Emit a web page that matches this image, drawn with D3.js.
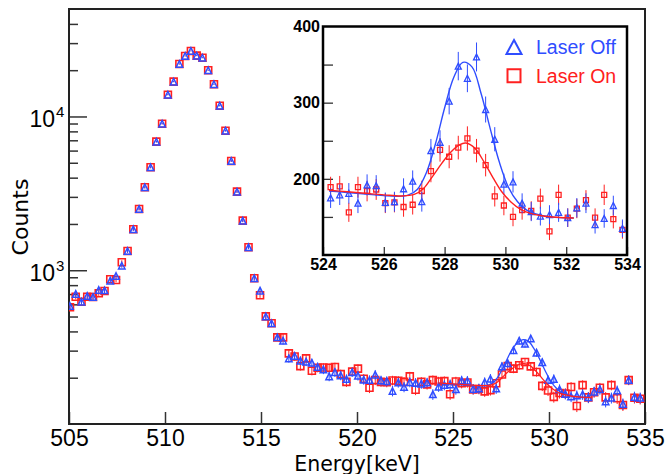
<!DOCTYPE html>
<html><head><meta charset="utf-8">
<script src="https://cdn.jsdelivr.net/npm/d3@7/dist/d3.min.js"></script>
<style>body{margin:0;background:#fff}</style>
</head><body><svg id="c" width="667" height="474"></svg>
<script>
// ---------- data ----------
const energy = [
 505.05,505.35,505.65,505.95,506.25,506.55,506.85,507.15,507.45,507.75,
 508.05,508.35,508.65,508.95,509.25,509.55,509.85,510.15,510.45,510.75,
 511.05,511.35,511.65,511.95,512.25,512.55,512.85,513.15,513.45,513.75,
 514.05,514.35,514.65,514.95,515.25,515.55,515.85,516.15,516.45,516.75,
 517.05,517.35,517.65,517.95,518.25,518.55,518.85,519.15,519.45,519.75,
 520.05,520.35,520.65,520.95,521.25,521.55,521.85,522.15,522.45,522.75,
 523.05,523.35,523.65,523.95,524.25,524.55,524.85,525.15,525.45,525.75,
 526.05,526.35,526.65,526.95,527.25,527.55,527.85,528.15,528.45,528.75,
 529.05,529.35,529.65,529.95,530.25,530.55,530.85,531.15,531.45,531.75,
 532.05,532.35,532.65,532.95,533.25,533.55,533.85,534.15,534.45,534.75];
const laserOff = [
 585,701,624,680,670,744,740,855,917,1070,
 1334,1846,2502,3464,4674,6857,8976,13860,16850,21950,
 24750,26680,24860,24100,19980,16200,11750,8083,5136,3243,
 2101,1410,887,736,501,452,366,348,267,277,
 258,254,250,235,226,204,217,207,196,217,
 206,194,193,209,192,190,164,186,174,187,
 185,183,186,156,175,179,181,168,192,191,
 169,170,187,197,170,237,248,302,348,332,
 360,291,252,193,196,168,157,151,153,156,
 149,162,168,140,148,165,135,193,150,148];
const laserOn = [
 575,673,624,673,670,708,733,873,864,1127,
 1334,1846,2502,3464,4674,6857,8976,13860,16850,21950,
 24750,26680,24860,24100,19980,16200,11750,8083,5136,3243,
 2101,1410,887,687,501,452,366,366,288,275,
 238,267,222,232,233,232,235,211,188,219,
 229,197,172,193,188,187,192,191,188,204,
 167,188,181,193,189,190,156,189,184,186,
 168,169,163,166,184,210,238,229,241,253,
 237,218,177,165,150,159,158,174,131,179,
 149,161,172,149,179,147,133,193,148,146];
// fit curves
const fitOffE = [524.2,524.8,525.4,526.0,526.4,526.8,527.1,527.4,527.7,528.0,528.3,528.6,528.9,529.2,529.5,529.8,530.1,530.4,530.7,531.0,531.5,532.25];
const fitOffY = [184,182,180,178,177,178.5,186,208,246,293,333,353,347,312,266,222,189,170,159,154,150,148.5];
const fitOnE  = [524.2,524.8,525.4,526.0,526.6,527.0,527.3,527.6,527.9,528.2,528.5,528.7,529.0,529.3,529.6,529.9,530.2,530.5,530.8,531.2,531.7,532.25];
const fitOnY  = [185,183,181,179,177.5,179.5,187,203,220,235,245,247,240,222,201,182,169,160,155,151.5,149.5,148.5];
const xTicks = [505,510,515,520,525,530,535];
const yMajor = [1000,10000];
const yMinor = [200,300,400,500,600,700,800,900,2000,3000,4000,5000,6000,7000,8000,9000,20000,30000,40000];
const insetXTicks = [524,526,528,530,532,534];
const insetYTicks = [150,200,250,300,350];
const insetYLabels = [200,300,400];
const seriesNames = ["Laser Off","Laser On"];
const BLUE = "#2f4dff", RED = "#ff2020";

// ---------- helpers ----------
const svg = d3.select("#c");
const FONT = "'Liberation Sans', Arial, sans-serif";
const triPath = (w,h) => `M0,${-h/2}L${w/2},${h/2}L${-w/2},${h/2}Z`;
const sqPath = s => `M${-s/2},${-s/2}h${s}v${s}h${-s}Z`;
const pts = arr => energy.map((e,i)=>({e, v: arr[i], err: Math.sqrt(arr[i])}));
const offPts = pts(laserOff), onPts = pts(laserOn);

// ---------- main plot ----------
const L=69,R=645,T=9,B=424;
const x = d3.scaleLinear([505,535],[L,R]);
const y = d3.scaleLog([100,50000],[B,T]);
const main = svg.append("g");
main.append("defs").append("clipPath").attr("id","mclip")
  .append("rect").attr("x",L).attr("y",T).attr("width",R-L).attr("height",B-T);

// axes
const gx = main.append("g").attr("transform",`translate(0,${B})`)
  .call(d3.axisBottom(x).tickValues(xTicks).tickSize(-12).tickPadding(6).tickFormat(d3.format("d")));
gx.select(".domain").remove();
gx.selectAll("line").attr("stroke","#333").attr("stroke-width",1.5);
gx.selectAll("text").attr("font-family",FONT).attr("font-size",23).attr("fill","#000");

const gyMinor = main.append("g").attr("transform",`translate(${L},0)`)
  .call(d3.axisLeft(y).tickValues(yMinor).tickSize(-9).tickFormat(""));
gyMinor.select(".domain").remove();
gyMinor.selectAll("line").attr("stroke","#333").attr("stroke-width",1.5);
const gyMajor = main.append("g").attr("transform",`translate(${L},0)`)
  .call(d3.axisLeft(y).tickValues(yMajor).tickSize(-18).tickFormat(""));
gyMajor.select(".domain").remove();
gyMajor.selectAll("line").attr("stroke","#333").attr("stroke-width",1.5);
yMajor.forEach(v=>{
  const yy = y(v);
  main.append("text").attr("x",55).attr("y",yy+11).attr("text-anchor","end")
    .attr("font-family",FONT).attr("font-size",23).text("10");
  main.append("text").attr("x",56).attr("y",yy+0.5)
    .attr("font-family",FONT).attr("font-size",15).text(String(Math.round(Math.log10(v))));
});

// frame
main.append("rect").attr("x",L).attr("y",T).attr("width",R-L).attr("height",B-T)
  .attr("fill","none").attr("stroke","#222").attr("stroke-width",2);

// titles
main.append("text").attr("x",(L+R)/2).attr("y",470.5).attr("text-anchor","middle")
  .attr("font-family","'DejaVu Sans', sans-serif").attr("font-size",20.5).text("Energy[keV]");
main.append("text").attr("transform","translate(28,217) rotate(-90)").attr("text-anchor","middle")
  .attr("font-family","'DejaVu Sans', sans-serif").attr("font-size",22).text("Counts");

// data
const md = main.append("g").attr("clip-path","url(#mclip)");
function drawSeries(g, data, xs, ys, color, shape, sw){
  g.append("g").selectAll("line").data(data).join("line")
    .attr("x1",d=>xs(d.e)).attr("x2",d=>xs(d.e))
    .attr("y1",d=>ys(d.v+d.err)).attr("y2",d=>ys(Math.max(d.v-d.err,1)))
    .attr("stroke",color).attr("stroke-width",1);
  g.append("g").selectAll("path").data(data).join("path")
    .attr("transform",d=>`translate(${xs(d.e)},${ys(d.v)})`)
    .attr("d",shape).attr("fill","none").attr("stroke",color).attr("stroke-width",sw);
}
const lineGen = (xs,ys)=>d3.line().x(d=>xs(d[0])).y(d=>ys(d[1])).curve(d3.curveCatmullRom.alpha(0.5));
const offFit = fitOffE.map((e,i)=>[e,fitOffY[i]]);
const onFit = fitOnE.map((e,i)=>[e,fitOnY[i]]);

drawSeries(md, onPts, x, y, RED, sqPath(7), 1.6);
drawSeries(md, offPts, x, y, BLUE, triPath(6.5,6.5), 1.5);
md.append("path").attr("d",lineGen(x,y)(offFit)).attr("fill","none").attr("stroke",BLUE).attr("stroke-width",1.3);
md.append("path").attr("d",lineGen(x,y)(onFit)).attr("fill","none").attr("stroke",RED).attr("stroke-width",1.3);

// ---------- inset ----------
const iL=323,iR=627,iT=26.5,iB=255;
const xi = d3.scaleLinear([524,534],[iL,iR]);
const yi = d3.scaleLinear([100,400],[iB,iT]);
const ins = svg.append("g");
ins.append("defs").append("clipPath").attr("id","iclip")
  .append("rect").attr("x",iL).attr("y",iT).attr("width",iR-iL).attr("height",iB-iT);
ins.append("rect").attr("x",iL).attr("y",iT).attr("width",iR-iL).attr("height",iB-iT).attr("fill","#fff");

const gxi = ins.append("g").attr("transform",`translate(0,${iB})`)
  .call(d3.axisBottom(xi).tickValues(insetXTicks).tickSize(-8).tickPadding(4).tickFormat(d3.format("d")));
gxi.select(".domain").remove();
gxi.selectAll("line").attr("stroke","#333").attr("stroke-width",1.3);
gxi.selectAll("text").attr("font-family",FONT).attr("font-size",16).attr("font-weight","bold").attr("fill","#000");
const gyi = ins.append("g").attr("transform",`translate(${iL},0)`)
  .call(d3.axisLeft(yi).tickValues(insetYTicks).tickSize(-10).tickFormat(""));
gyi.select(".domain").remove();
gyi.selectAll("line").attr("stroke","#333").attr("stroke-width",1.3);
insetYLabels.forEach(v=>{
  ins.append("text").attr("x",iL-3).attr("y",yi(v)+5.8).attr("text-anchor","end")
    .attr("font-family",FONT).attr("font-size",16).attr("font-weight","bold").text(v);
});

const idat = ins.append("g").attr("clip-path","url(#iclip)");
const inRange = d => d.e>=524 && d.e<=534;
drawSeries(idat, onPts.filter(inRange), xi, yi, RED, sqPath(5), 1.3);
drawSeries(idat, offPts.filter(inRange), xi, yi, BLUE, triPath(6,6), 1.3);
idat.append("path").attr("d",lineGen(xi,yi)(offFit)).attr("fill","none").attr("stroke",BLUE).attr("stroke-width",1.4);
idat.append("path").attr("d",lineGen(xi,yi)(onFit)).attr("fill","none").attr("stroke",RED).attr("stroke-width",1.4);

ins.append("rect").attr("x",iL).attr("y",iT).attr("width",iR-iL).attr("height",iB-iT)
  .attr("fill","none").attr("stroke","#000").attr("stroke-width",2.5);

// legend
const leg = ins.append("g");
leg.append("path").attr("transform","translate(514,47)").attr("d",triPath(15,14))
  .attr("fill","none").attr("stroke",BLUE).attr("stroke-width",2);
leg.append("text").attr("x",536).attr("y",53.5).attr("font-family",FONT).attr("font-size",19.5)
  .attr("fill",BLUE).text(seriesNames[0]);
leg.append("path").attr("transform","translate(514,75.8)").attr("d",sqPath(13))
  .attr("fill","none").attr("stroke",RED).attr("stroke-width",2);
leg.append("text").attr("x",536).attr("y",83.3).attr("font-family",FONT).attr("font-size",19.5)
  .attr("fill",RED).text(seriesNames[1]);
</script></body></html>
